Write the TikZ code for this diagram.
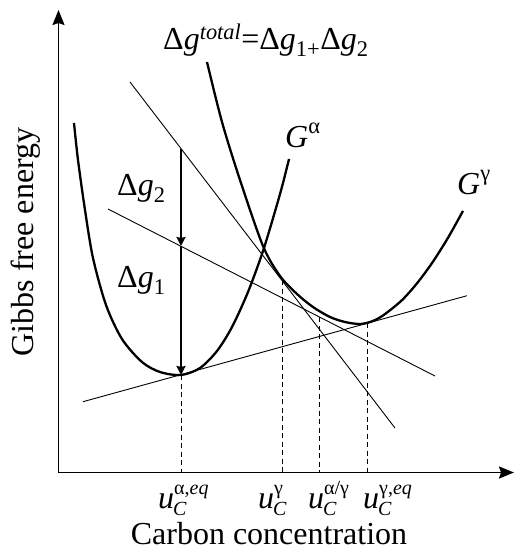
\documentclass[tikz,border=0pt]{standalone}
\usepackage{fontspec}
\setmainfont{Liberation Serif}
\usepackage{amsmath}
\usetikzlibrary{arrows.meta}

\newcommand{\uconc}[1]{\textit{u}\rlap{\kern-1pt\raisebox{-7pt}{\fontsize{20}{20}\selectfont\textit{C}}}\raisebox{14pt}{\fontsize{20}{20}\selectfont #1}}

\begin{document}
\begin{tikzpicture}[
    x=1pt, y=-1pt,
    every node/.style={font=\fontsize{32}{38}\selectfont, inner sep=0pt},
    axis/.style={line width=1.8pt, {Stealth[length=15pt, width=12pt, inset=2pt]}-{Stealth[length=15pt, width=12pt, inset=2pt]}},
    curve/.style={line width=2.3pt},
    tangent/.style={line width=0.9pt},
    guide/.style={line width=0.9pt, dash pattern=on 5pt off 3.5pt},
    gap/.style={line width=2pt, -{Stealth[length=9pt, width=9pt, inset=1pt]}}
]
    \useasboundingbox (0,0) rectangle (515,550);

    \coordinate (O) at (58.5,472.5);
    \coordinate (Ytop) at (58.5,10);
    \coordinate (Xend) at (514,472.5);
    \draw[axis] (Ytop) -- (O) -- (Xend);

    % free energy curves
    \draw[curve] plot[smooth] coordinates {(74,123) (78,160) (85,210) (93,258) (106,305) (122,339)
        (142,362) (160,372) (181,375) (200,368) (217,351) (232,327) (248,292) (263,251)
        (276,208) (283,183) (289,159)};
    \draw[curve] plot[smooth] coordinates {(207,62) (222,122) (240,180) (263,246) (280,276)
        (297,294) (313,307) (330,317) (345,322) (360,324) (372,321.3) (383,315.5) (400,302)
        (410,291.6) (420,279.5) (433,261.6) (448,237.8) (463,210.9)};

    \coordinate (c1) at (83,401.7);
    \coordinate (c2) at (467,295.7);
    \coordinate (s1) at (108,209);
    \coordinate (s2) at (435,376);
    \coordinate (k1) at (130,82);
    \coordinate (k2) at (395,428);
    \draw[tangent] (c1) -- (c2);
    \draw[tangent] (s1) -- (s2);
    \draw[tangent] (k1) -- (k2);

    \coordinate (top) at (181,149);
    \coordinate (mid) at (181,246);
    \coordinate (amin) at (181,375);
    \draw[gap] (top) -- (mid);
    \draw[gap] (mid) -- (amin);

    \coordinate (p2) at (282,280);
    \coordinate (p3) at (319,317);
    \coordinate (p4) at (367,323);
    \coordinate (f1) at (181,472);
    \coordinate (f2) at (282,472);
    \coordinate (f3) at (319,472);
    \coordinate (f4) at (367,472);
    \draw[guide] (amin) -- (f1);
    \draw[guide] (p2) -- (f2);
    \draw[guide] (p3) -- (f3);
    \draw[guide] (p4) -- (f4);

    \node[anchor=base west] (dgtot) at (163,49)
        {$\text{Δ}\textit{g}^{\textit{total}}\text{=Δ}\textit{g}_{\text{1+}}\text{Δ}\textit{g}_{\text{2}}$};
    \node[anchor=base west] (Galpha) at (285,147) {$\textit{G}^{\text{α}}$};
    \node[anchor=base west] (Ggamma) at (457,194) {$\textit{G}^{\text{γ}}$};
    \node[anchor=base west] (dg2) at (117,195) {$\text{Δ}\textit{g}_{\text{2}}$};
    \node[anchor=base west] (dg1) at (117,287) {$\text{Δ}\textit{g}_{\text{1}}$};

    \node[anchor=base west] (ua) at (158,508) {\uconc{α,\textit{eq}}};
    \node[anchor=base west] (ug) at (258,508) {\uconc{γ}};
    \node[anchor=base west] (uag) at (308,508) {\uconc{α/γ}};
    \node[anchor=base west] (uge) at (363,508) {\uconc{γ,\textit{eq}}};

    \node[anchor=base] (xlab) at (269,544) {Carbon concentration};
    \node[rotate=90, anchor=base] (ylab) at (33,242) {Gibbs free energy};
\end{tikzpicture}
\end{document}
